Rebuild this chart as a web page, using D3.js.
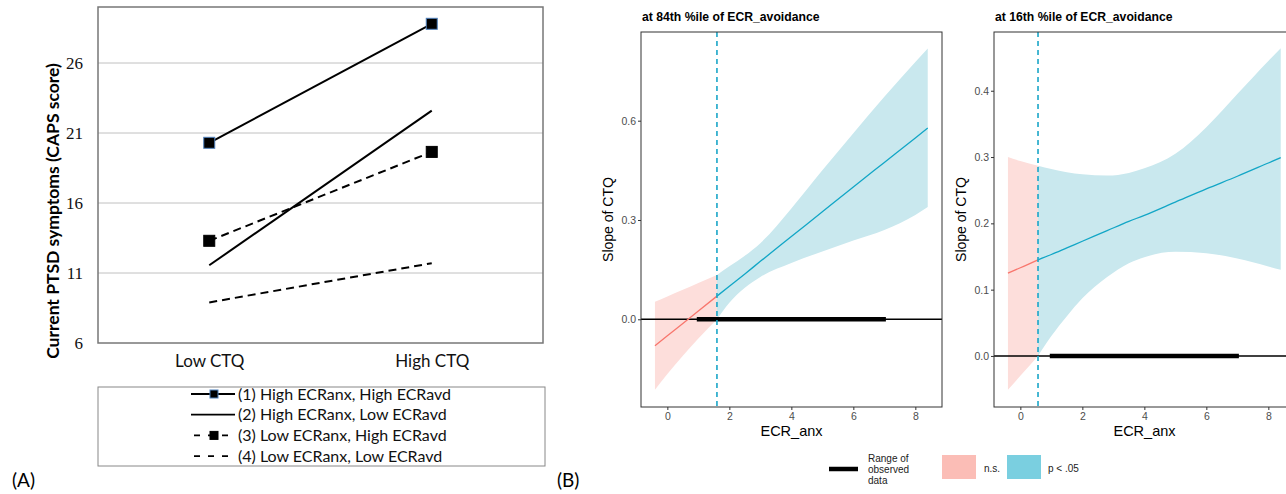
<!DOCTYPE html>
<html>
<head>
<meta charset="utf-8">
<script src="https://cdn.jsdelivr.net/npm/d3@7"></script>
<style>
body { margin: 0; background: #fff; }
svg { display: block; }
</style>
</head>
<body>
<script>
// ---- panel (A): PTSD symptoms by CTQ level
const ctqLevels = ["Low CTQ", "High CTQ"]
const groupLabels = ["(1) High ECRanx, High ECRavd", "(2) High ECRanx, Low ECRavd",
                     "(3) Low ECRanx, High ECRavd", "(4) Low ECRanx, Low ECRavd"]
const hiAnxHiAvd = [20.3, 28.8]
const hiAnxLoAvd = [11.55, 22.6]
const loAnxHiAvd = [13.3, 19.65]
const loAnxLoAvd = [8.9, 11.7]
const capsTicks = [6, 11, 16, 21, 26]

// ---- panel (B): Johnson-Neyman plots, slope of CTQ over ECR_anx
const jnTitles = ["at 84th %ile of ECR_avoidance", "at 16th %ile of ECR_avoidance"]
const anxTicks = [0, 2, 4, 6, 8]
const slopeTicks84 = [0.0, 0.3, 0.6]
const slopeTicks16 = [0.0, 0.1, 0.2, 0.3, 0.4]
const observedRange = [0.95, 7.05]
const jnPoint84 = 1.6
const jnPoint16 = 0.57

// 84th percentile
const anx84ns = [-0.4, 0, 0.5, 1, 1.6]
const est84ns = [-0.080, -0.050, -0.013, 0.025, 0.070]
const lo84ns  = [-0.213, -0.165, -0.110, -0.058, 0.0]
const hi84ns  = [0.053, 0.069, 0.089, 0.110, 0.134]
const anx84sig = [1.6, 2, 2.5, 3, 4, 5, 6, 7, 8, 8.4]
const est84sig = [0.070, 0.100, 0.137, 0.175, 0.250, 0.325, 0.400, 0.474, 0.548, 0.578]
const lo84sig  = [0.0, 0.050, 0.095, 0.128, 0.170, 0.205, 0.238, 0.270, 0.315, 0.339]
const hi84sig  = [0.134, 0.160, 0.192, 0.230, 0.335, 0.450, 0.562, 0.672, 0.777, 0.818]

// 16th percentile
const anx16ns = [-0.4, 0, 0.57]
const est16ns = [0.125, 0.133, 0.145]
const lo16ns  = [-0.051, -0.030, 0.0]
const hi16ns  = [0.300, 0.294, 0.287]
const anx16sig = [0.57, 1, 1.5, 2, 2.8, 3.5, 4, 5, 6, 7, 8, 8.4]
const est16sig = [0.145, 0.153, 0.163, 0.173, 0.189, 0.203, 0.212, 0.232, 0.252, 0.271, 0.291, 0.299]
const lo16sig  = [0.0, 0.030, 0.060, 0.087, 0.119, 0.140, 0.149, 0.157, 0.155, 0.147, 0.135, 0.130]
const hi16sig  = [0.287, 0.282, 0.277, 0.274, 0.272, 0.276, 0.283, 0.305, 0.345, 0.395, 0.445, 0.464]

const zip = (xs, est, lo, hi) => xs.map((v, i) => ({x: v, est: est[i], lo: lo[i], hi: hi[i]}))

let svg = d3.select("body").append("svg")
    .attr("width", 1286)
    .attr("height", 494)
svg.append("rect").attr("width", 1286).attr("height", 494).attr("fill", "white")

// ================= (A)
let xA = d3.scalePoint().domain(ctqLevels).range([98, 543]).padding(0.5)
let yA = d3.scaleLinear().domain([6, 30]).range([343, 7])
let gA = svg.append("g")

gA.selectAll(".grid")
    .data(capsTicks.slice(1))
    .enter()
    .append("line")
    .attr("x1", 98).attr("x2", 543)
    .attr("y1", d => yA(d)).attr("y2", d => yA(d))
    .attr("stroke", "#c0c0c0")
    .attr("stroke-width", 1)

gA.append("rect")
    .attr("x", 98).attr("y", yA(30))
    .attr("width", 445).attr("height", yA(6) - yA(30))
    .attr("fill", "none")
    .attr("stroke", "#777")
    .attr("stroke-width", 1.5)

let yAxisA = gA.append("g")
    .attr("transform", "translate(98,0)")
    .call(d3.axisLeft(yA).tickValues(capsTicks).tickSize(0).tickPadding(15))
yAxisA.select(".domain").remove()
yAxisA.selectAll("text").attr("font-family", "'Liberation Serif', serif").attr("font-size", 17).attr("fill", "#111")

let xAxisA = gA.append("g")
    .attr("transform", "translate(0,343)")
    .call(d3.axisBottom(xA).tickSize(0).tickPadding(12))
xAxisA.select(".domain").remove()
xAxisA.selectAll("text").attr("font-family", "Lato, sans-serif").attr("font-size", 17).attr("fill", "#111")

gA.append("text")
    .attr("transform", "translate(53,211) rotate(-90)")
    .attr("text-anchor", "middle")
    .attr("dy", "0.35em")
    .attr("font-family", "Lato, sans-serif")
    .attr("font-weight", "bold")
    .attr("font-size", 17.5)
    .text("Current PTSD symptoms (CAPS score)")

let groups = [
    {vals: hiAnxHiAvd, dash: null, marker: true, mstroke: "#4f81bd"},
    {vals: hiAnxLoAvd, dash: null, marker: false},
    {vals: loAnxHiAvd, dash: "8,5", marker: true, mstroke: "#000"},
    {vals: loAnxLoAvd, dash: "8,5", marker: false}
]
let lineA = d3.line().x((d, i) => xA(ctqLevels[i])).y(d => yA(d))

groups.forEach(s => {
    gA.append("path")
        .attr("d", lineA(s.vals))
        .attr("fill", "none")
        .attr("stroke", "#000")
        .attr("stroke-width", 2)
        .attr("stroke-dasharray", s.dash)
    if (s.marker) {
        gA.selectAll(null)
            .data(s.vals)
            .enter()
            .append("rect")
            .attr("x", (d, i) => xA(ctqLevels[i]) - 5.5)
            .attr("y", d => yA(d) - 5.5)
            .attr("width", 11).attr("height", 11)
            .attr("fill", "#000")
            .attr("stroke", s.mstroke)
            .attr("stroke-width", 1)
    }
})

// legend (A)
gA.append("rect")
    .attr("x", 98).attr("y", 387).attr("width", 447).attr("height", 79)
    .attr("fill", "none").attr("stroke", "#888").attr("stroke-width", 1)
let legA = gA.selectAll(".leg")
    .data(groupLabels)
    .enter()
    .append("g")
    .attr("transform", (d, i) => "translate(0," + (394 + i * 20.7) + ")")
legA.append("line")
    .attr("x1", (d, i) => i < 2 ? 191 : 194).attr("x2", 235)
    .attr("stroke", "#000").attr("stroke-width", 1.8)
    .attr("stroke-dasharray", (d, i) => i < 2 ? null : "6,8")
legA.filter((d, i) => i == 0 || i == 2)
    .append("rect")
    .attr("x", 210).attr("y", -4).attr("width", 8).attr("height", 8)
    .attr("fill", "#000")
    .attr("stroke", (d, i) => i == 0 ? "#4f81bd" : "#000")
legA.append("text")
    .attr("x", 238).attr("dy", "0.35em")
    .attr("font-family", "Lato, sans-serif").attr("font-size", 16).attr("fill", "#111")
    .text(d => d)

svg.append("text").attr("x", 12).attr("y", 487)
    .attr("font-family", "Lato, sans-serif").attr("font-size", 19).text("(A)")
svg.append("text").attr("x", 557).attr("y", 487)
    .attr("font-family", "Lato, sans-serif").attr("font-size", 19).text("(B)")

// ================= (B)
const pink = "#f8766d", pinkFill = "#fddedb"
const blue = "#12a6c6", blueFill = "#c9e8ee"

function jnPanel(left, title, yDomain, yTicks, ns, sig, jn) {
    const top = 32, bottom = 407, width = 301
    let x = d3.scaleLinear().domain([-0.85, 8.86]).range([left, left + width])
    let y = d3.scaleLinear().domain(yDomain).range([bottom, top])
    let g = svg.append("g").attr("font-family", "'Liberation Sans', Arial, sans-serif")

    let area = d3.area().x(d => x(d.x)).y0(d => y(d.lo)).y1(d => y(d.hi)).curve(d3.curveMonotoneX)
    let line = d3.line().x(d => x(d.x)).y(d => y(d.est)).curve(d3.curveMonotoneX)

    g.append("path").attr("d", area(ns)).attr("fill", pinkFill)
    g.append("path").attr("d", area(sig)).attr("fill", blueFill)

    g.append("line")
        .attr("x1", left).attr("x2", left + width)
        .attr("y1", y(0)).attr("y2", y(0))
        .attr("stroke", "#000").attr("stroke-width", 1.5)
    g.append("line")
        .attr("x1", x(observedRange[0])).attr("x2", x(observedRange[1]))
        .attr("y1", y(0)).attr("y2", y(0))
        .attr("stroke", "#000").attr("stroke-width", 4.5)

    g.append("path").attr("d", line(ns)).attr("fill", "none").attr("stroke", pink).attr("stroke-width", 1.3)
    g.append("path").attr("d", line(sig)).attr("fill", "none").attr("stroke", blue).attr("stroke-width", 1.3)

    g.append("line")
        .attr("x1", x(jn)).attr("x2", x(jn))
        .attr("y1", top).attr("y2", bottom)
        .attr("stroke", "#1aa6c8").attr("stroke-width", 1.6)
        .attr("stroke-dasharray", "5,4")

    g.append("rect")
        .attr("x", left).attr("y", top).attr("width", width).attr("height", bottom - top)
        .attr("fill", "none").attr("stroke", "#333").attr("stroke-width", 1)

    let ya = g.append("g")
        .attr("transform", "translate(" + left + ",0)")
        .call(d3.axisLeft(y).tickValues(yTicks).tickSize(3).tickPadding(2).tickFormat(d3.format(".1f")))
    let xa = g.append("g")
        .attr("transform", "translate(0," + bottom + ")")
        .call(d3.axisBottom(x).tickValues(anxTicks).tickSize(3).tickPadding(3))
    ya.select(".domain").remove()
    xa.select(".domain").remove()
    g.selectAll(".tick line").attr("stroke", "#333")
    g.selectAll(".tick text").attr("fill", "#4d4d4d").attr("font-size", 10.5)
        .attr("font-family", "'Liberation Sans', Arial, sans-serif")

    g.append("text").attr("x", left + 1).attr("y", 21)
        .attr("font-weight", "bold").attr("font-size", 12.2).text(title)
    g.append("text")
        .attr("transform", "translate(" + (left - 33) + "," + ((top + bottom) / 2) + ") rotate(-90)")
        .attr("text-anchor", "middle").attr("dy", "0.35em")
        .attr("font-size", 14).text("Slope of CTQ")
    g.append("text")
        .attr("x", left + width / 2).attr("y", 431).attr("dy", "0.35em")
        .attr("text-anchor", "middle").attr("font-size", 14.5).text("ECR_anx")
}

jnPanel(641, jnTitles[0], [-0.265, 0.868], slopeTicks84,
    zip(anx84ns, est84ns, lo84ns, hi84ns), zip(anx84sig, est84sig, lo84sig, hi84sig), jnPoint84)
jnPanel(994, jnTitles[1], [-0.077, 0.4886], slopeTicks16,
    zip(anx16ns, est16ns, lo16ns, hi16ns), zip(anx16sig, est16sig, lo16sig, hi16sig), jnPoint16)

// legend (B)
let legB = svg.append("g").attr("font-family", "'Liberation Sans', Arial, sans-serif")
    .attr("font-size", 10).attr("fill", "#222")
legB.append("line").attr("x1", 829).attr("x2", 858).attr("y1", 469).attr("y2", 469)
    .attr("stroke", "#000").attr("stroke-width", 4.5)
legB.selectAll(null)
    .data(["Range of", "observed", "data"])
    .enter()
    .append("text")
    .attr("x", 868).attr("y", (d, i) => 458 + i * 11).attr("dy", "0.35em")
    .text(d => d)
legB.append("rect").attr("x", 942).attr("y", 455).attr("width", 34).attr("height", 24).attr("fill", "#fbbdb6")
legB.append("text").attr("x", 984).attr("y", 468).attr("dy", "0.35em").text("n.s.")
legB.append("rect").attr("x", 1007).attr("y", 455).attr("width", 34).attr("height", 24).attr("fill", "#7acfe0")
legB.append("text").attr("x", 1048).attr("y", 468).attr("dy", "0.35em").text("p < .05")
</script>
</body>
</html>
